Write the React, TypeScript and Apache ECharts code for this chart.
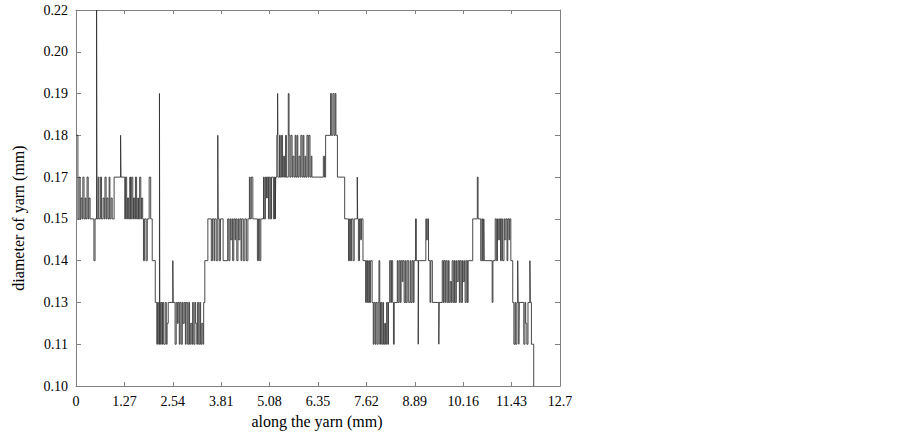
import React, { useEffect, useRef } from "react";
import * as echarts from "echarts";

// Tick labels as printed on the chart
const xTickLabels = ["0", "1.27", "2.54", "3.81", "5.08", "6.35", "7.62", "8.89", "10.16", "11.43", "12.7"];
const yTickLabels = ["0.10", "0.11", "0.13", "0.14", "0.15", "0.17", "0.18", "0.19", "0.20", "0.22"];
const xTitle = "along the yarn (mm)";
const yTitle = "diameter of yarn (mm)";

// Yarn diameter (mm) at each change point along the yarn (mm)
const section1: [number, number][] = [
  [0.0, 0.18], [0.05, 0.15], [0.08, 0.17], [0.11, 0.15], [0.13, 0.16], [0.16, 0.15], [0.18, 0.17], [0.21, 0.15],
  [0.24, 0.16], [0.26, 0.15], [0.29, 0.17], [0.32, 0.15], [0.34, 0.16], [0.37, 0.15], [0.47, 0.14], [0.5, 0.15],
  [0.54, 0.22], [0.55, 0.15], [0.58, 0.17], [0.6, 0.15], [0.64, 0.17], [0.67, 0.15], [0.71, 0.16], [0.74, 0.15],
  [0.76, 0.17], [0.79, 0.15], [0.81, 0.16], [0.84, 0.15], [0.87, 0.17], [0.89, 0.15], [0.92, 0.16], [0.95, 0.15],
  [1.0, 0.17], [1.17, 0.18], [1.18, 0.17], [1.28, 0.15], [1.3, 0.17], [1.33, 0.15], [1.35, 0.16], [1.38, 0.15],
  [1.41, 0.17], [1.43, 0.15], [1.46, 0.17], [1.49, 0.15], [1.51, 0.16], [1.54, 0.15], [1.56, 0.17], [1.59, 0.15],
  [1.62, 0.16], [1.64, 0.15], [1.67, 0.17], [1.7, 0.15], [1.72, 0.16], [1.75, 0.15], [1.77, 0.14], [1.8, 0.15],
  [1.84, 0.14], [1.87, 0.15], [1.92, 0.17], [1.96, 0.15], [2.0, 0.14], [2.08, 0.13], [2.12, 0.11], [2.14, 0.13],
  [2.17, 0.11], [2.19, 0.19], [2.2, 0.11], [2.22, 0.13], [2.25, 0.11], [2.27, 0.13], [2.3, 0.11], [2.34, 0.13],
  [2.37, 0.11], [2.39, 0.12], [2.42, 0.13],
];
const section2: [number, number][] = [
  [2.54, 0.14], [2.55, 0.13], [2.6, 0.11], [2.63, 0.13], [2.66, 0.12], [2.68, 0.13], [2.71, 0.11], [2.73, 0.13],
  [2.76, 0.11], [2.79, 0.13], [2.81, 0.12], [2.84, 0.13], [2.87, 0.11], [2.89, 0.13], [2.93, 0.11], [2.96, 0.13],
  [2.98, 0.11], [3.01, 0.12], [3.04, 0.11], [3.06, 0.13], [3.09, 0.11], [3.12, 0.13], [3.14, 0.12], [3.17, 0.11],
  [3.19, 0.13], [3.22, 0.11], [3.25, 0.13], [3.27, 0.11], [3.3, 0.12], [3.33, 0.11], [3.35, 0.13], [3.38, 0.14],
  [3.46, 0.15], [3.55, 0.14], [3.58, 0.15], [3.62, 0.14], [3.64, 0.15], [3.68, 0.14], [3.72, 0.18], [3.73, 0.15],
  [3.76, 0.14], [3.79, 0.15], [3.86, 0.14], [3.98, 0.15], [4.01, 0.14], [4.04, 0.15], [4.06, 0.145], [4.09, 0.15],
  [4.11, 0.14], [4.14, 0.15], [4.17, 0.145], [4.19, 0.15], [4.22, 0.14], [4.25, 0.15], [4.27, 0.145], [4.3, 0.15],
  [4.33, 0.14], [4.35, 0.15], [4.39, 0.14], [4.43, 0.15], [4.47, 0.14], [4.51, 0.15], [4.55, 0.17], [4.57, 0.15],
  [4.6, 0.17], [4.64, 0.15], [4.76, 0.14], [4.79, 0.15], [4.82, 0.14], [4.85, 0.15], [4.92, 0.17], [4.94, 0.15],
  [4.97, 0.17], [5.0, 0.16], [5.02, 0.17], [5.05, 0.15], [5.07, 0.17], [5.1, 0.15],
];
const section3: [number, number][] = [
  [5.13, 0.17], [5.18, 0.15], [5.21, 0.17], [5.23, 0.15], [5.24, 0.17], [5.27, 0.18], [5.29, 0.19], [5.3, 0.17],
  [5.34, 0.18], [5.36, 0.17], [5.39, 0.18], [5.42, 0.17], [5.44, 0.175], [5.47, 0.17], [5.5, 0.18], [5.52, 0.17],
  [5.57, 0.19], [5.59, 0.18], [5.61, 0.17], [5.64, 0.18], [5.67, 0.17], [5.69, 0.175], [5.72, 0.17], [5.75, 0.18],
  [5.77, 0.17], [5.8, 0.18], [5.82, 0.17], [5.85, 0.175], [5.88, 0.17], [5.9, 0.18], [5.93, 0.17], [5.96, 0.18],
  [5.98, 0.17], [6.01, 0.175], [6.03, 0.17], [6.06, 0.18], [6.09, 0.17], [6.11, 0.18], [6.14, 0.17], [6.17, 0.175],
  [6.19, 0.17], [6.49, 0.175], [6.52, 0.17], [6.55, 0.18], [6.68, 0.19], [6.7, 0.18], [6.74, 0.19], [6.77, 0.18],
  [6.8, 0.19], [6.82, 0.18], [6.86, 0.17], [7.05, 0.15], [7.15, 0.14], [7.18, 0.15], [7.2, 0.14], [7.23, 0.15],
  [7.27, 0.14], [7.3, 0.15], [7.38, 0.17], [7.39, 0.15], [7.41, 0.14], [7.44, 0.15], [7.47, 0.145], [7.49, 0.15],
  [7.53, 0.14], [7.6, 0.13],
];
const section4: [number, number][] = [
  [7.62, 0.14], [7.65, 0.13], [7.68, 0.14], [7.7, 0.13], [7.73, 0.14], [7.77, 0.13], [7.8, 0.11], [7.82, 0.13],
  [7.85, 0.11], [7.87, 0.13], [7.9, 0.11], [7.93, 0.13], [7.95, 0.14], [7.97, 0.11], [7.99, 0.13], [8.02, 0.11],
  [8.05, 0.13], [8.07, 0.11], [8.1, 0.12], [8.12, 0.11], [8.15, 0.13], [8.18, 0.11], [8.2, 0.13], [8.23, 0.14],
  [8.26, 0.13], [8.28, 0.14], [8.31, 0.13], [8.33, 0.11], [8.35, 0.13], [8.43, 0.14], [8.45, 0.13], [8.48, 0.14],
  [8.51, 0.13], [8.53, 0.14], [8.56, 0.135], [8.58, 0.14], [8.61, 0.13], [8.64, 0.14], [8.66, 0.13], [8.69, 0.14],
  [8.73, 0.13], [8.77, 0.14], [8.79, 0.13], [8.82, 0.14], [8.85, 0.13], [8.87, 0.14], [8.91, 0.15], [8.93, 0.14],
  [8.98, 0.11], [8.99, 0.14], [9.18, 0.15], [9.2, 0.145], [9.23, 0.15], [9.25, 0.14], [9.29, 0.13], [9.31, 0.14],
  [9.35, 0.13], [9.52, 0.11], [9.53, 0.13], [9.61, 0.14], [9.64, 0.13], [9.66, 0.14], [9.69, 0.13], [9.71, 0.14],
  [9.74, 0.13], [9.77, 0.14], [9.79, 0.13], [9.82, 0.135], [9.85, 0.13], [9.87, 0.14], [9.9, 0.13], [9.93, 0.14],
  [9.95, 0.13], [9.98, 0.14], [10.0, 0.135], [10.03, 0.14], [10.06, 0.13], [10.08, 0.14], [10.11, 0.13],
];
const section5: [number, number][] = [
  [10.14, 0.14], [10.16, 0.135], [10.19, 0.14], [10.21, 0.13], [10.24, 0.14], [10.27, 0.13], [10.29, 0.14],
  [10.41, 0.15], [10.53, 0.17], [10.55, 0.15], [10.62, 0.14], [10.65, 0.15], [10.67, 0.14], [10.7, 0.15],
  [10.71, 0.14], [10.92, 0.13], [10.94, 0.14], [11.0, 0.15], [11.03, 0.14], [11.06, 0.15], [11.08, 0.145],
  [11.11, 0.15], [11.14, 0.14], [11.16, 0.15], [11.19, 0.14], [11.23, 0.15], [11.25, 0.145], [11.28, 0.15],
  [11.31, 0.14], [11.33, 0.15], [11.36, 0.145], [11.38, 0.15], [11.41, 0.14], [11.46, 0.13], [11.49, 0.11],
  [11.52, 0.13], [11.54, 0.11], [11.57, 0.13], [11.59, 0.14], [11.6, 0.13], [11.62, 0.11], [11.63, 0.13],
  [11.75, 0.11], [11.78, 0.13], [11.8, 0.12], [11.83, 0.11], [11.86, 0.13], [11.91, 0.14], [11.92, 0.13],
  [11.95, 0.11], [12.01, 0.1],
];

const yLevels = yTickLabels.map(Number);

// map a diameter onto the evenly spaced tick positions of the y axis
function toLevel(v: number): number {
  for (let i = 0; i < yLevels.length - 1; i++) {
    const a = yLevels[i];
    const b = yLevels[i + 1];
    if (v <= b + 1e-9) return i + (v - a) / (b - a);
  }
  return yLevels.length - 1;
}

const AXIS_COLOR = "#808080";
const FONT = "Liberation Serif";

export default function App() {
  const ref = useRef<HTMLDivElement>(null);
  useEffect(() => {
    if (!ref.current) return;
    document.body.style.margin = "0";
    const chart = echarts.init(ref.current, null, { renderer: "svg" });
    const points = [...section1, ...section2, ...section3, ...section4, ...section5].map(
      ([x, v]) => [x, toLevel(v)]
    );
    const xMax = Number(xTickLabels[xTickLabels.length - 1]);
    const xStep = Number(xTickLabels[1]);
    const baseX = {
      type: "value" as const,
      min: 0,
      max: xMax,
      interval: xStep,
      splitLine: { show: false },
      axisLine: { show: true, onZero: false, lineStyle: { color: AXIS_COLOR, width: 1 } },
      axisTick: { show: true, inside: true, length: 4, lineStyle: { color: AXIS_COLOR } },
    };
    const baseY = {
      type: "value" as const,
      min: 0,
      max: yTickLabels.length - 1,
      interval: 1,
      splitLine: { show: false },
      axisLine: { show: true, onZero: false, lineStyle: { color: AXIS_COLOR, width: 1 } },
      axisTick: { show: true, inside: true, length: 5, lineStyle: { color: AXIS_COLOR } },
    };
    chart.setOption({
      animation: false,
      backgroundColor: "#ffffff",
      grid: { left: 76, right: 342, top: 10, bottom: 50, containLabel: false },
      xAxis: [
        {
          ...baseX,
          position: "bottom",
          axisLabel: {
            show: true,
            margin: 8,
            fontFamily: FONT,
            fontSize: 14,
            color: "#000",
            formatter: (v: number) => xTickLabels[Math.round(v / xStep)] ?? "",
          },
        },
        { ...baseX, position: "top", axisLabel: { show: false } },
      ],
      yAxis: [
        {
          ...baseY,
          position: "left",
          axisLabel: {
            show: true,
            margin: 8,
            fontFamily: FONT,
            fontSize: 14,
            color: "#000",
            formatter: (v: number) => yTickLabels[Math.round(v)] ?? "",
          },
        },
        { ...baseY, position: "right", axisLabel: { show: false } },
      ],
      graphic: [
        {
          type: "text",
          x: 317,
          y: 421,
          style: {
            text: xTitle,
            fontFamily: FONT,
            fontSize: 16,
            fill: "#000",
            align: "center",
            verticalAlign: "middle",
          },
        },
        {
          type: "text",
          x: 18,
          y: 218,
          rotation: Math.PI / 2,
          style: {
            text: yTitle,
            fontFamily: FONT,
            fontSize: 16,
            fill: "#000",
            align: "center",
            verticalAlign: "middle",
          },
        },
      ],
      series: [
        {
          type: "line",
          step: "end",
          xAxisIndex: 0,
          yAxisIndex: 0,
          showSymbol: false,
          symbol: "none",
          lineStyle: { color: "#333333", width: 0.9 },
          data: points,
        },
      ],
    });
    return () => chart.dispose();
  }, []);
  return <div ref={ref} style={{ width: 902, height: 436 }} />;
}
